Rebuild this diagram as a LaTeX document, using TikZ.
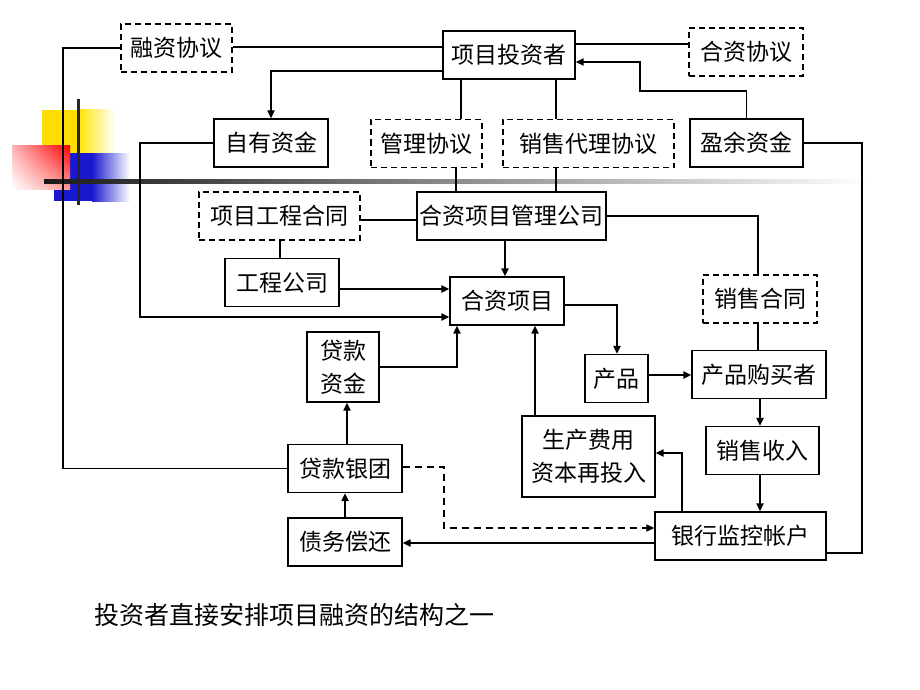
\documentclass[tikz,border=0pt]{standalone}
\usepackage{fontspec}
\newfontfamily\cjk{Noto Sans CJK SC}
\usepackage{tikz}
\usetikzlibrary{arrows.meta,positioning,shadings}

\begin{document}
\begin{tikzpicture}[x=1pt, y=-1pt, >={Triangle[length=8pt,width=7pt]},
   box/.style={draw, line width=1.3pt, inner sep=1pt, minimum width=114, minimum height=48,
      font=\cjk\fontsize{23}{33}\selectfont, align=center},
   dbox/.style={box, dash pattern=on 6pt off 4pt},
   link/.style={line width=1.3pt},
   flow/.style={line width=2.2pt, ->}]
   \useasboundingbox (0,0) rectangle (920,690);
   \fill[yellow!80!orange] (42,110) rectangle (78,153);
   \shade[left color=yellow!80!orange, right color=white] (78,110) rectangle (115,153);
   \fill[blue!80!black!90] (54,153) rectangle (92,201);
   \shade[left color=blue!80!black!90, right color=white] (92,153) rectangle (130,201);
   \shade[upper right=red, upper left=red!30, lower right=red!40, lower left=white] (12,145) rectangle (70,189);
   \draw[line width=3pt, black!85] (78,99) -- (78,205);
   \shade[left color=black!90, right color=white] (44,179) rectangle (870,183);

   \node[dbox, minimum width=111] (fin_agr) at (176.5,48) {融资协议};
   \node[box, minimum width=132] (investor) at (509,55) {项目投资者};
   \node[dbox] (jv_agr) at (746,52) {合资协议};
   \node[box] (own_fund) at (271,143) {自有资金};
   \node[dbox, minimum width=111] (mgmt_agr) at (426.5,143.5) {管理协议};
   \node[dbox, minimum width=171] (agency_agr) at (588.5,143.5) {销售代理协议};
   \node[box, minimum width=113] (surplus) at (746.5,143) {盈余资金};
   \node[dbox, minimum width=161] (eng_contract) at (279.5,216) {项目工程合同};
   \node[box, minimum width=189] (jv_mgmt) at (511.5,216) {合资项目管理公司};
   \node[box] (eng_co) at (282,282.5) {工程公司};
   \node[box] (project) at (507,301) {合资项目};
   \node[dbox] (sales_contract) at (760,299) {销售合同};
   \node[box, minimum width=72, minimum height=70] (loan_fund) at (343,367) {贷款\\资金};
   \node[box, minimum width=63] (product) at (616.5,378.5) {产品};
   \node[box, minimum width=134] (buyer) at (759,374.5) {产品购买者};
   \node[box, minimum width=133, minimum height=81] (reinvest) at (588.5,456.5) {生产费用\\资本再投入};
   \node[box, minimum width=113] (income) at (762.5,450.5) {销售收入};
   \node[box, minimum width=171] (account) at (740.5,536) {银行监控帐户};
   \node[box] (syndicate) at (345,468.5) {贷款银团};
   \node[box] (repay) at (345,542) {债务偿还};
   \node[font=\cjk\fontsize{25}{30}\selectfont, anchor=west] (caption) at (91,615) {投资者直接安排项目融资的结构之一};

   \draw[link] (fin_agr.west) -| (63,0 |- syndicate.west) -- (syndicate.west);
   \draw[link] (fin_agr.east |- 0,47) -- (investor.west |- 0,47);
   \draw[flow] (investor.west |- 0,71) -| (own_fund.north);
   \draw[link] (investor.east |- 0,44) -- (jv_agr.west |- 0,44);
   \draw[flow, line width=1.8pt] (surplus.north) |- (640,91) |- (investor.east |- 0,62);
   \draw[link] (investor.south -| 461,0) -- (mgmt_agr.north -| 461,0);
   \draw[link] (investor.south -| 556,0) -- (agency_agr.north -| 556,0);
   \draw[link] (mgmt_agr.south -| 456,0) -- (jv_mgmt.north -| 456,0);
   \draw[link] (agency_agr.south -| 556,0) -- (jv_mgmt.north -| 556,0);
   \draw[flow] (own_fund.west) -| (140,317) -- (project.west |- 0,317);
   \draw[link] (eng_contract.east |- 0,220) -- (jv_mgmt.west |- 0,220);
   \draw[link] (eng_contract.south -| 280,0) -- (eng_co.north -| 280,0);
   \draw[flow, line width=2.8pt] (eng_co.east |- 0,289) -- (project.west |- 0,289);
   \draw[flow] (jv_mgmt.south -| 505,0) -- (project.north -| 505,0);
   \draw[link] (jv_mgmt.east) -| (sales_contract.north -| 758,0);
   \draw[link] (sales_contract.south -| 758,0) -- (buyer.north -| 758,0);
   \draw[flow] (project.east |- 0,305) -| (product.north -| 617,0);
   \draw[flow] (product.east |- 0,375) -- (buyer.west |- 0,375);
   \draw[flow] (buyer.south -| 760,0) -- (income.north -| 760,0);
   \draw[flow] (income.south -| 760,0) -- (account.north -| 760,0);
   \draw[flow] (account.north -| 682,0) |- (reinvest.east |- 0,453);
   \draw[flow] (reinvest.north -| 535,0) -- (project.south -| 535,0);
   \draw[flow] (loan_fund.east) -| (project.south -| 457,0);
   \draw[flow] (syndicate.north -| 347,0) -- (loan_fund.south -| 347,0);
   \draw[flow] (repay.north) -- (syndicate.south);
   \draw[flow, line width=1.6pt, dash pattern=on 7pt off 5pt] (syndicate.east |- 0,467) -| (444,528) -- (account.west |- 0,528);
   \draw[flow] (account.west |- 0,543) -- (repay.east |- 0,543);
   \draw[link] (surplus.east) -| (862,553) -- (account.east |- 0,553);
\end{tikzpicture}
\end{document}
